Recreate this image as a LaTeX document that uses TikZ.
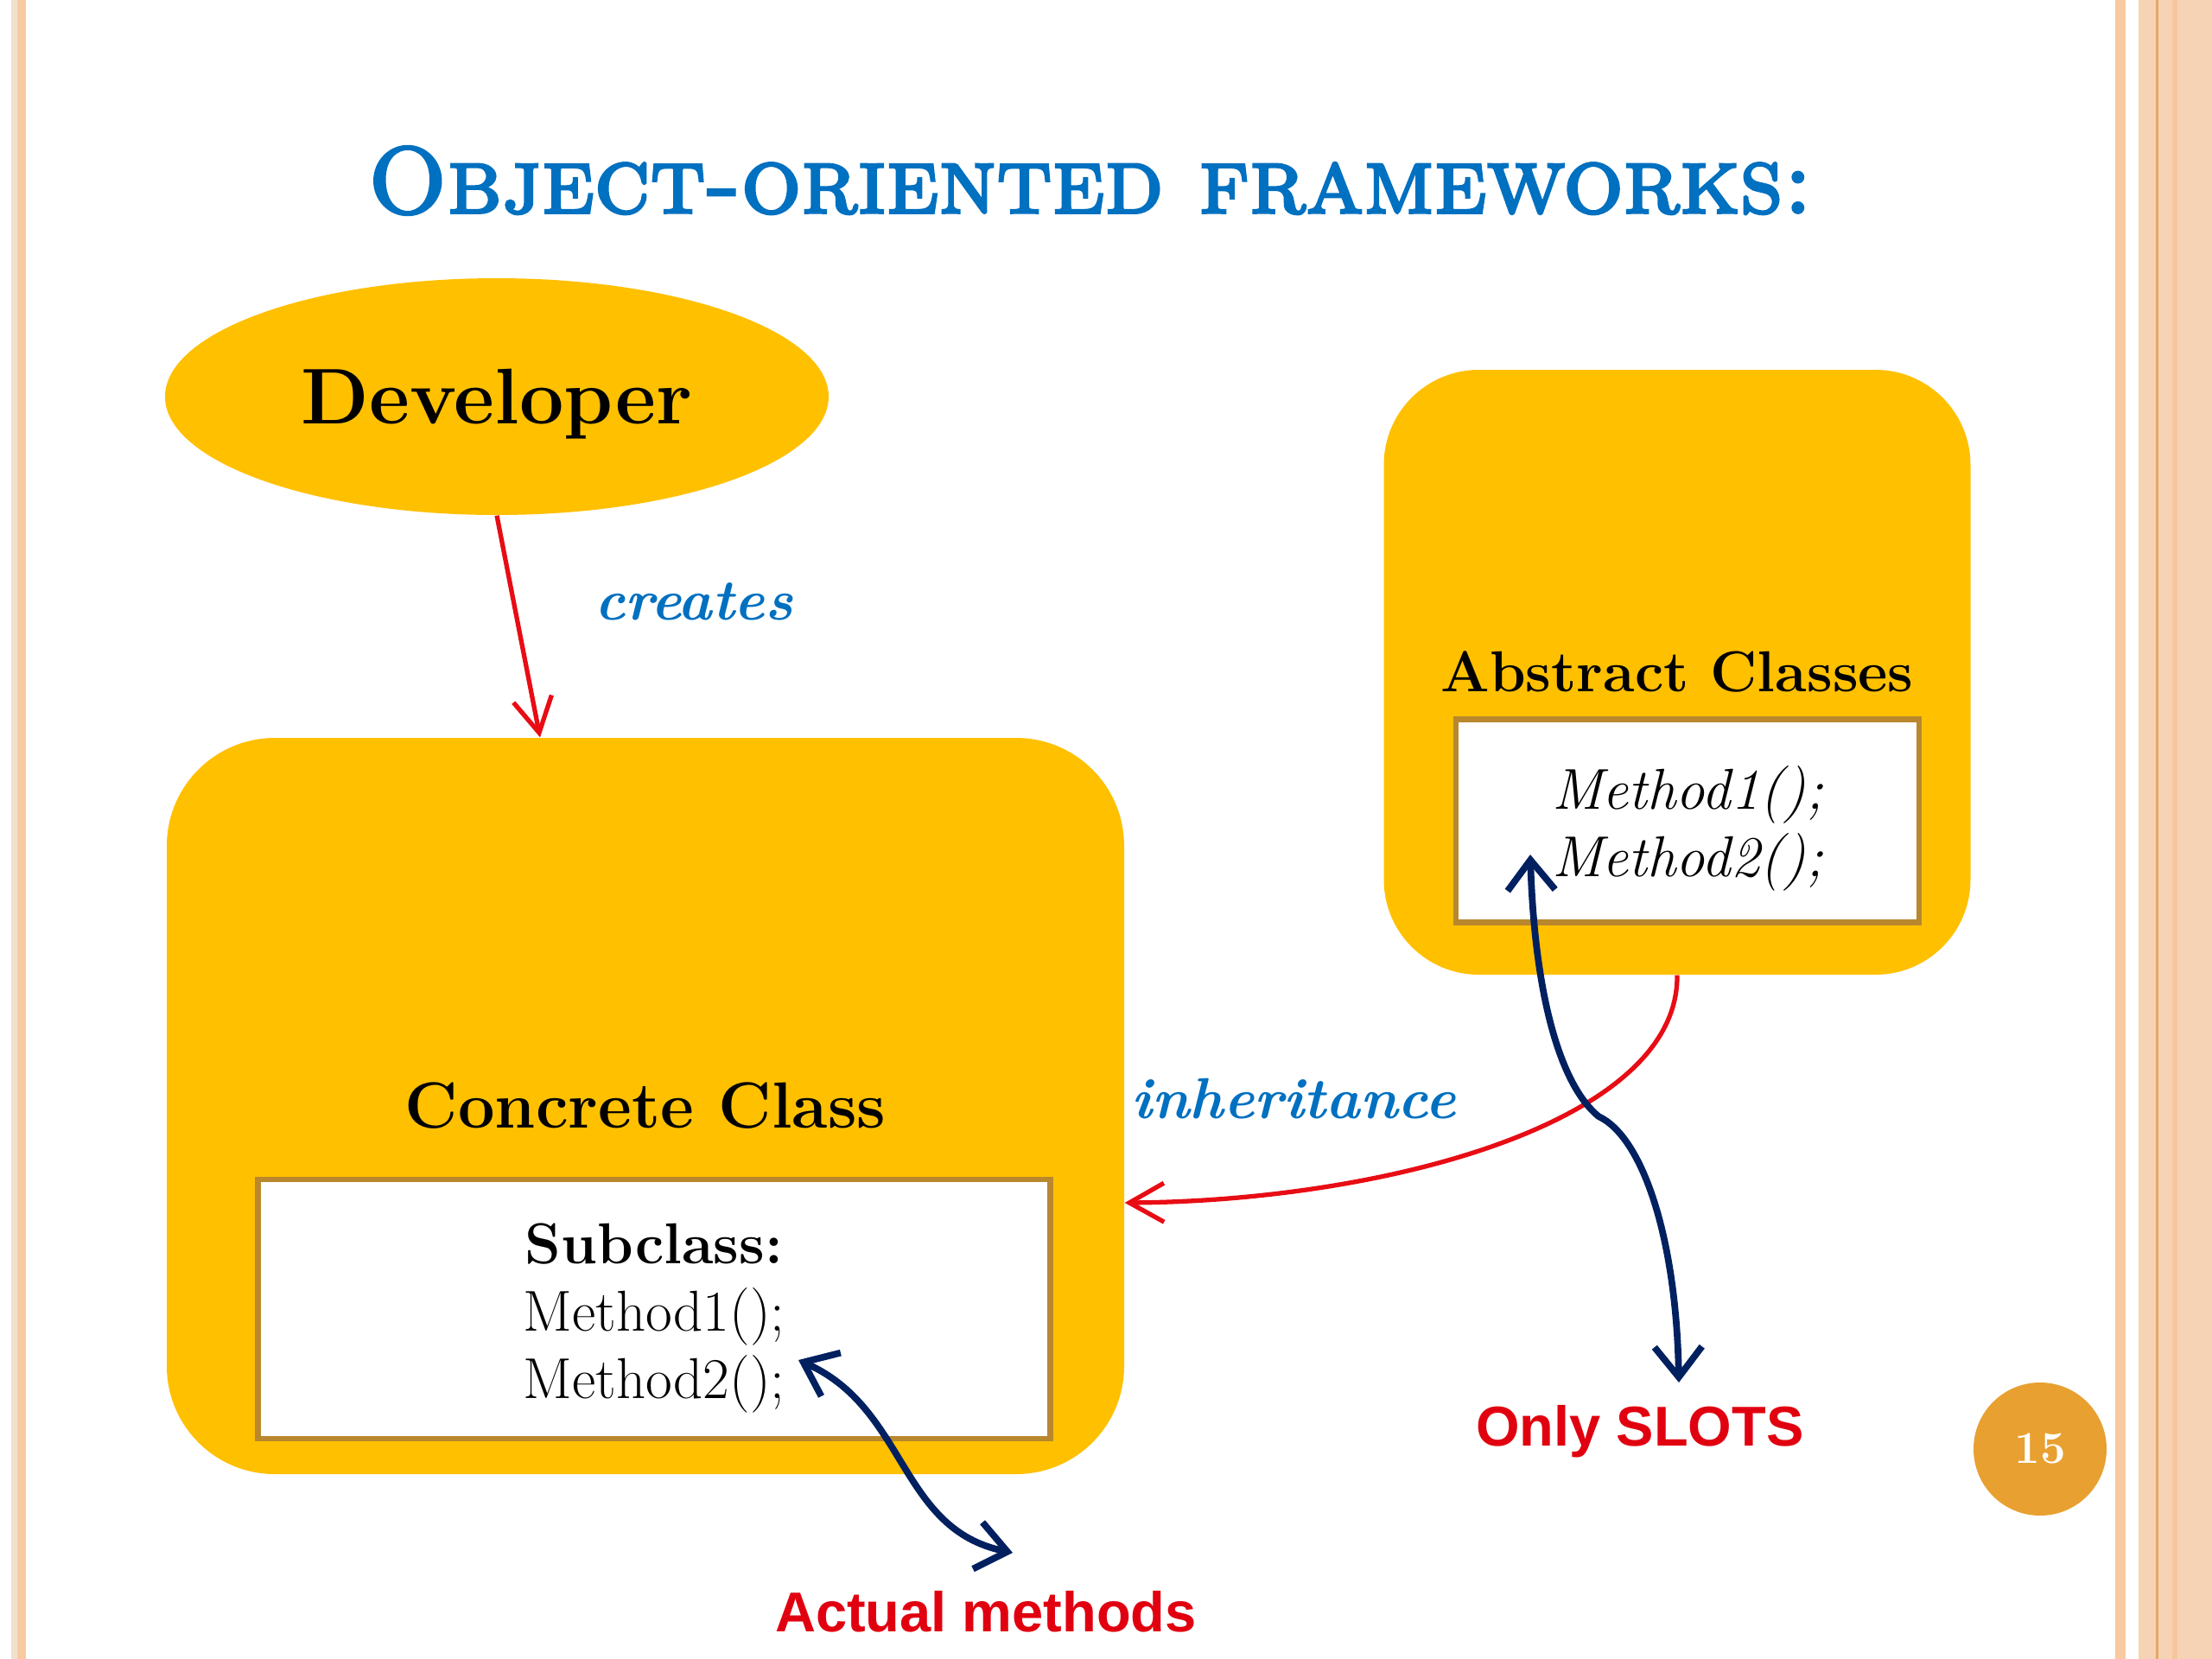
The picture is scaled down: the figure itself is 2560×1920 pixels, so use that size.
\documentclass[tikz,border=0pt]{standalone}
\usepackage{fontspec}
\newfontfamily\arialfont{Liberation Sans}
\newfontface\titlefont{lmromancaps10-regular.otf}[RawFeature={embolden=3}]
\usetikzlibrary{arrows.meta, positioning, shapes.geometric}

\definecolor{gold}{RGB}{255,192,0}
\definecolor{boxline}{RGB}{185,135,45}
\definecolor{arrowred}{RGB}{232,12,20}
\definecolor{notered}{RGB}{225,0,15}
\definecolor{labelblue}{RGB}{0,112,192}
\definecolor{navy}{RGB}{0,32,96}
\definecolor{pagedot}{RGB}{232,160,48}
\definecolor{edgebeige}{RGB}{240,225,205}
\definecolor{edgeorange}{RGB}{248,202,162}
\definecolor{panel}{RGB}{245,211,180}
\definecolor{panelline}{RGB}{228,168,105}

\begin{document}
\begin{tikzpicture}[
    x=0.1mm, y=-0.1mm,
    >={Straight Barb[length=4mm, width=4.5mm]},
    blob/.style={rectangle, fill=gold, align=center, inner sep=0pt},
    slot/.style={rectangle, draw=boxline, line width=1.8pt, fill=white, align=center,
                inner sep=0pt, font=\fontsize{19}{22.2}\selectfont},
    verb/.style={font=\fontsize{19}{22}\selectfont\bfseries\itshape, text=labelblue},
    note/.style={font=\arialfont\fontsize{18.5}{22}\selectfont\bfseries, text=notered},
    redarrow/.style={->, line width=1.5pt, draw=arrowred},
    bluearrow/.style={{Straight Barb[length=3.5mm, width=5.5mm]}-{Straight Barb[length=3.5mm, width=5.5mm]},
                line width=2.2pt, draw=navy}
]

% Page and side borders
\fill[white] (0,0) rectangle (2560,1920);
\fill[edgebeige] (13,0) rectangle (20,1920);
\fill[edgeorange] (20,0) rectangle (30,1920);
\fill[edgeorange] (2448,0) rectangle (2460,1920);
\fill[panel] (2475,0) rectangle (2560,1920);
\fill[panelline] (2495,0) rectangle (2498,1920);
\fill[edgeorange!90!panelline] (2514,0) rectangle (2520,1920);

% Title
\node[font=\titlefont\fontsize{31}{36}\selectfont, text=labelblue] (title) at (1262,209)
    {Object-oriented frameworks:};

% Developer
\node[ellipse, fill=gold, minimum width=76.8mm, minimum height=27.4mm, inner sep=0pt,
      text depth=0pt, font=\fontsize{26}{30}\selectfont\bfseries] (dev) at (575,459) {Developer};

% Concrete class
\node[blob, rounded corners=12.5mm, minimum width=110.8mm, minimum height=85.2mm,
      font=\fontsize{21.5}{26}\selectfont\bfseries] (conc) at (747,1280) {Concrete Class};
\node[slot, minimum width=91.7mm, minimum height=30mm] (sub) at (757,1515)
    {\rule{0pt}{19.5pt}\textbf{Subclass:}\\Method1();\\Method2();};

% Abstract classes
\node[blob, rounded corners=11mm, minimum width=67.9mm, minimum height=70mm,
      font=\fontsize{19}{23}\selectfont\bfseries] (abs) at (1941,778) {Abstract Classes};
\node[slot, minimum width=53.6mm, minimum height=23.5mm] (absm) at (1953,950)
    {\rule{0pt}{19.5pt}\itshape Method1();\\\itshape Method2();};

% Labels
\node[verb] (creates) at (803,696) {creates};
\node[verb] (inh) at (1497,1272) {inheritance};
\node[note] (slots) at (1898,1657) {Only SLOTS};
\node[note] (actual) at (1141,1865) {Actual methods};

% Page number
\node[circle, fill=pagedot, minimum size=15.4mm, inner sep=0pt, text=white,
      font=\fontsize{15}{17}\selectfont\bfseries] (page) at (2361,1677) {15};

% Arrow ends
\coordinate (slottop) at (1771,989);
\coordinate (slotbend) at (1850,1292);
\coordinate (slotend) at (1943,1600);
\coordinate (subtip) at (924,1574);
\coordinate (subend) at (1172,1797);

% Red arrows
\draw[redarrow] (dev.south) -- ([xshift=-12.2mm]conc.north);
\draw[redarrow] (abs.south) .. controls (1943,1300) and (1600,1390) .. ([yshift=-11.2mm]conc.east);

% Blue arrows
\draw[bluearrow] (slottop) .. controls (1776,1150) and (1805,1255) .. (slotbend)
    .. controls (1900,1315) and (1940,1430) .. (slotend);
\draw[bluearrow] (subtip) .. controls (1050,1630) and (1040,1770) .. (subend);

\end{tikzpicture}
\end{document}
